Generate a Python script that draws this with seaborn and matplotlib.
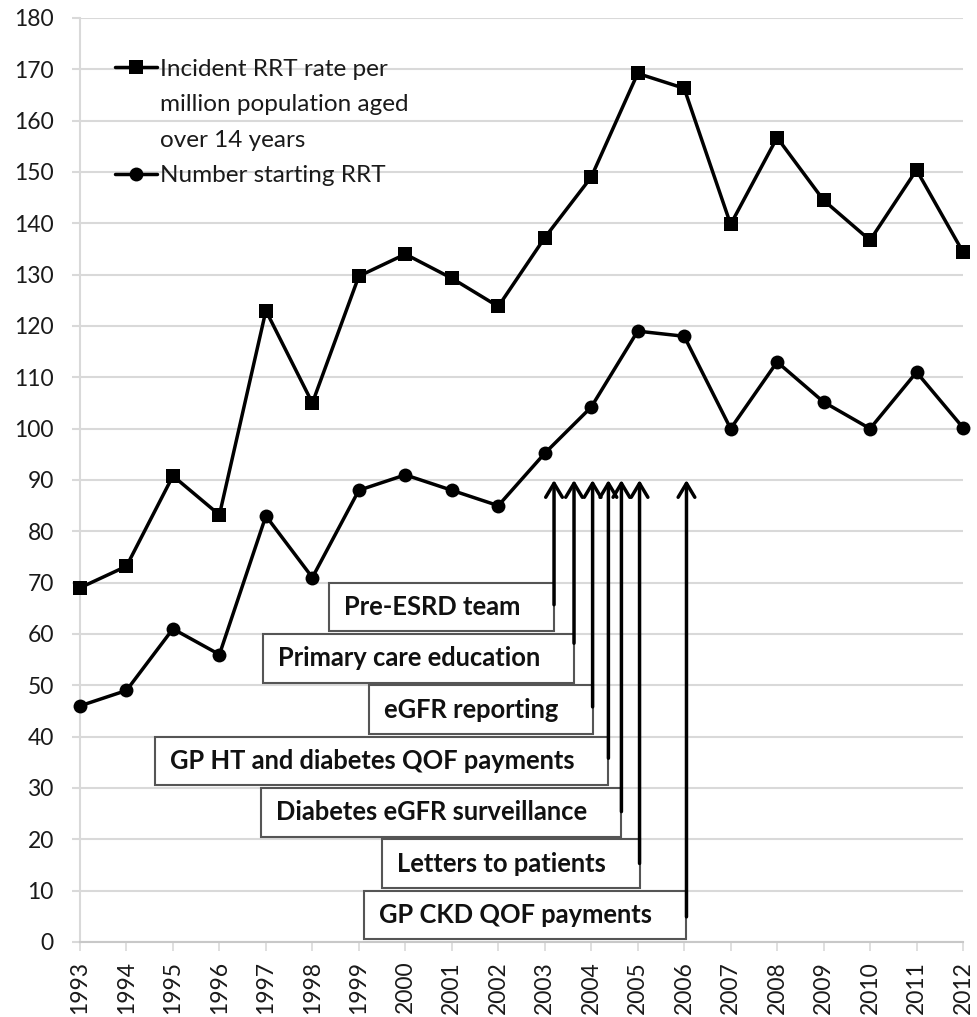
import matplotlib
matplotlib.use('Agg')
import matplotlib.pyplot as plt
from matplotlib.lines import Line2D
from matplotlib.patches import Rectangle
import pandas as pd
import seaborn as sns

# data
years = list(range(1993, 2013))
rrt_rate = [69, 73.2, 90.8, 83.2, 123, 105, 129.7, 134, 129.3, 123.8,
            137.2, 149, 169.2, 166.3, 139.8, 156.7, 144.5, 136.7, 150.4, 134.4]
n_starting = [46, 49, 61, 56, 83, 71, 88, 91, 88, 85,
              95.2, 104.2, 119, 118, 100, 113, 105.2, 100, 111, 100.2]

event_labels = ['Pre-ESRD team', 'Primary care education', 'eGFR reporting',
                'GP HT and diabetes QOF payments', 'Diabetes eGFR surveillance',
                'Letters to patients', 'GP CKD QOF payments']
event_years = [2003.2, 2003.63, 2004.03, 2004.37, 2004.65, 2005.04, 2006.05]
arrow_from = [65.7, 58.2, 45.8, 35.8, 25.4, 15.3, 4.9]
arrow_to = 90

legend_labels = ['Incident RRT rate per', 'million population aged',
                 'over 14 years', 'Number starting RRT']

sns.set_theme(style='white')
plt.rcParams['font.family'] = ['Lato', 'DejaVu Sans']

W, H = 977, 1017
fig = plt.figure(figsize=(W / 100, H / 100), dpi=100)
ax = fig.add_axes([80 / W, 1 - 942 / H, (963 - 80) / W, (942 - 18) / H])

df = pd.DataFrame({'year': years, 'rate': rrt_rate, 'n': n_starting})
sns.lineplot(data=df, x='year', y='rate', ax=ax, color='black', lw=2.5,
             marker='s', markersize=10, markeredgewidth=0, clip_on=False, zorder=4)
sns.lineplot(data=df, x='year', y='n', ax=ax, color='black', lw=2.5,
             marker='o', markersize=10, markeredgewidth=0, clip_on=False, zorder=4)

ax.set_xlim(1993, 2012)
ax.set_ylim(0, 180)
ax.set_xticks(years)
ax.set_xticklabels([str(y) for y in years], rotation=90)
ax.set_yticks(range(0, 181, 10))
ax.set_xlabel('')
ax.set_ylabel('')
ax.yaxis.grid(True, color='#d9d9d9', lw=1.5)
ax.xaxis.grid(False)
ax.set_axisbelow(True)
for s in ['top', 'right']:
    ax.spines[s].set_visible(False)
ax.spines['left'].set_color('#d9d9d9')
ax.spines['left'].set_linewidth(1.5)
ax.spines['bottom'].set_color('#c8c8c8')
ax.spines['bottom'].set_linewidth(1.5)
ax.tick_params(axis='y', length=5.8, width=1.5, color='#d9d9d9', pad=13,
               labelsize=16.5, labelcolor='#1a1a1a', left=True)
ax.tick_params(axis='x', length=6.5, width=1.2, color='#d9d9d9', pad=7,
               labelsize=16.5, labelcolor='#1a1a1a', bottom=True)

# legend: first label wrapped over three rows, handle on the first row
h_sq = Line2D([], [], color='black', lw=2.5, marker='s', markersize=10, markeredgewidth=0)
h_ci = Line2D([], [], color='black', lw=2.5, marker='o', markersize=10, markeredgewidth=0)
blank = Line2D([], [], linestyle='none')
leg = ax.legend([h_sq, blank, blank, h_ci], legend_labels, loc='upper left',
                bbox_to_anchor=(0.04, 0.956), frameon=False, fontsize=17.5,
                handlelength=1.73, handletextpad=0.12, labelspacing=0.6,
                borderpad=0, borderaxespad=0)
for t in leg.get_texts():
    t.set_color('#1a1a1a')

# intervention labels in boxes, arrows up to 90
texts = []
for i, (lab, xe) in enumerate(zip(event_labels, event_years)):
    top = 70 - 10 * i
    mid = top - 4.75
    t = ax.annotate(lab, xy=(xe, mid), xytext=(-34, 0), textcoords='offset pixels',
                    ha='right', va='center', fontsize=18.4, fontweight='bold',
                    color='#111111', zorder=6)
    texts.append(t)

fig.canvas.draw()
renderer = fig.canvas.get_renderer()
inv = ax.transData.inverted()
for i, (t, xe) in enumerate(zip(texts, event_years)):
    bb = t.get_window_extent(renderer)
    x_left = inv.transform((bb.x0 - 15, 0))[0]
    top = 70 - 10 * i
    ax.add_patch(Rectangle((x_left, top - 9.5), xe - x_left, 9.5, facecolor='white',
                           edgecolor='#555555', lw=1.5, zorder=5))

for xe, y0 in zip(event_years, arrow_from):
    ax.annotate('', xy=(xe, arrow_to), xytext=(xe, y0),
                arrowprops=dict(arrowstyle='->, head_length=0.5, head_width=0.3',
                                lw=2.5, color='black', mutation_scale=20,
                                shrinkA=0, shrinkB=0), zorder=7)

fig.savefig('out.png', dpi=100)
